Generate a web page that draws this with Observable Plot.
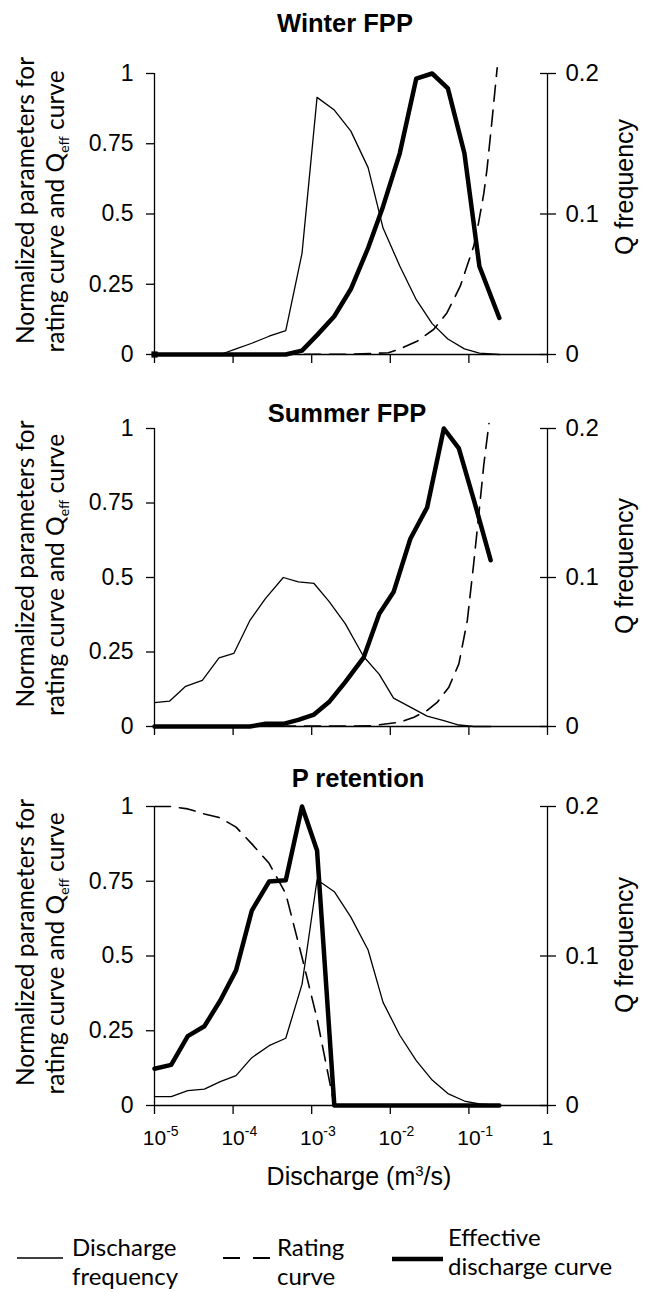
<!DOCTYPE html>
<html>
<head>
<meta charset="utf-8">
<script src="https://cdn.jsdelivr.net/npm/d3@7"></script>
<script src="https://cdn.jsdelivr.net/npm/@observablehq/plot@0.6"></script>
<style>
  body { margin: 0; background: #fff; }
  #root { position: relative; width: 645px; height: 1292px; overflow: hidden; background: #fff; }
  #root > svg { position: absolute; left: 0; }
</style>
</head>
<body>
<div id="root"></div>
<script>
// ---------- data ----------
const FREQ_MAX = 0.2;
const X_DOMAIN = [1e-5, 1];
const X_TICKS = [1e-5, 1e-4, 1e-3, 1e-2, 1e-1, 1];
const Y_TICKS = [0, 0.25, 0.5, 0.75, 1];
const FREQ_TICKS = [0, 0.1, 0.2];

// Winter FPP
const winterQ = [1.0e-5, 1.63e-5, 2.65e-5, 4.31e-5, 6.87e-5, 1.09e-4, 1.73e-4, 2.87e-4, 4.68e-4, 7.53e-4, 1.17e-3, 1.94e-3, 3.15e-3, 5.22e-3, 8.09e-3, 1.32e-2, 2.14e-2, 3.41e-2, 5.40e-2, 8.77e-2, 0.136, 0.244];
const winterFreq = [0, 0, 0, 0, 0, 0.004, 0.008, 0.013, 0.017, 0.072, 0.183, 0.174, 0.159, 0.133, 0.090, 0.063, 0.039, 0.022, 0.011, 0.004, 0.001, 0];
const winterEff = [0, 0, 0, 0, 0, 0, 0, 0, 0, 0.014, 0.069, 0.136, 0.233, 0.379, 0.527, 0.716, 0.982, 1.0, 0.947, 0.716, 0.314, 0.130];
const winterRatingQ = [1.0e-5, 3.0e-3, 9.5e-3, 1.33e-2, 2.19e-2, 3.55e-2, 5.25e-2, 7.76e-2, 0.115, 0.133, 0.155, 0.170, 0.197, 0.229];
const winterRating = [0, 0.001, 0.006, 0.020, 0.047, 0.089, 0.148, 0.243, 0.385, 0.470, 0.574, 0.660, 0.834, 1.02];

// Summer FPP
const summerQ = [1.00e-5, 1.55e-5, 2.49e-5, 4.06e-5, 6.62e-5, 1.02e-4, 1.63e-4, 2.59e-4, 4.35e-4, 6.76e-4, 1.07e-3, 1.66e-3, 2.67e-3, 4.57e-3, 7.24e-3, 1.10e-2, 1.80e-2, 2.94e-2, 4.80e-2, 7.45e-2, 0.116, 0.189];
const summerFreq = [0.016, 0.017, 0.027, 0.031, 0.046, 0.049, 0.071, 0.086, 0.100, 0.097, 0.096, 0.084, 0.069, 0.047, 0.035, 0.019, 0.013, 0.007, 0.004, 0.001, 0, 0];
const summerEff = [0, 0, 0, 0, 0, 0, 0, 0.009, 0.009, 0.022, 0.040, 0.082, 0.149, 0.231, 0.378, 0.451, 0.630, 0.735, 1.0, 0.933, 0.759, 0.558];
const summerRatingQ = [1.0e-5, 5.6e-3, 1.35e-2, 2.0e-2, 2.95e-2, 3.98e-2, 5.56e-2, 7.45e-2, 9.55e-2, 0.115, 0.134, 0.155, 0.180];
const summerRating = [0, 0.002, 0.015, 0.031, 0.054, 0.082, 0.132, 0.210, 0.356, 0.546, 0.714, 0.880, 1.017];

// P retention
const pretQ = [1.0e-5, 1.63e-5, 2.65e-5, 4.31e-5, 6.87e-5, 1.09e-4, 1.73e-4, 2.87e-4, 4.68e-4, 7.53e-4, 1.17e-3, 1.94e-3, 3.15e-3, 5.22e-3, 8.09e-3, 1.32e-2, 2.14e-2, 3.41e-2, 5.40e-2, 8.77e-2, 0.136, 0.244];
const pretFreq = [0.006, 0.006, 0.010, 0.011, 0.016, 0.020, 0.032, 0.040, 0.045, 0.081, 0.151, 0.143, 0.126, 0.104, 0.069, 0.047, 0.030, 0.017, 0.008, 0.003, 0.001, 0];
const pretEff = [0.123, 0.136, 0.232, 0.265, 0.351, 0.452, 0.652, 0.749, 0.753, 1.0, 0.853, 0, 0, 0, 0, 0, 0, 0, 0, 0, 0, 0];
const pretRatingQ = pretQ;
const pretRating = [1.0, 1.0, 0.992, 0.975, 0.962, 0.931, 0.875, 0.810, 0.708, 0.496, 0.290, 0, 0, 0, 0, 0, 0, 0, 0, 0, 0, 0];

const titles = ["Winter FPP", "Summer FPP", "P retention"];
const legendLabels = [["Discharge", "frequency"], ["Rating", "curve"], ["Effective", "discharge curve"]];

// ---------- layout ----------
const panels = [
  {q: winterQ, freq: winterFreq, eff: winterEff, rq: winterRatingQ, rating: winterRating, top: 73, h: 281, labels: false, marker: true,
   titleX: 345, titleY: 31.5, qfY: 187},
  {q: summerQ, freq: summerFreq, eff: summerEff, rq: summerRatingQ, rating: summerRating, top: 428, h: 298, labels: false, marker: false,
   titleX: 347, titleY: 422, qfY: 566},
  {q: pretQ, freq: pretFreq, eff: pretEff, rq: pretRatingQ, rating: pretRating, top: 806, h: 299, labels: true, marker: false,
   titleX: 358, titleY: 787, qfY: 945}
];

const SANS = "'Liberation Sans', Arial, Helvetica, sans-serif";
const HUMAN = "Lato, 'Open Sans', sans-serif";
const NS = "http://www.w3.org/2000/svg";
const root = document.getElementById("root");

function fmtExp(d) {
  const e = Math.round(Math.log10(d));
  return e === 0 ? "1" : "10^" + e;
}

panels.forEach((p, idx) => {
  const mt = 20, mb = p.labels ? 50 : 16;
  const freqData = p.q.map((q, i) => ({q, v: p.freq[i] / FREQ_MAX}));
  const effData = p.q.map((q, i) => ({q, v: p.eff[i]}));
  const ratData = p.rq.map((q, i) => ({q, v: p.rating[i]}));
  const svg = Plot.plot({
    width: 645,
    height: mt + p.h + mb,
    marginLeft: 154, marginRight: 98, marginTop: mt, marginBottom: mb,
    style: {background: "transparent", overflow: "visible", fontFamily: SANS, color: "#000"},
    x: {type: "log", domain: X_DOMAIN, label: null},
    y: {domain: [0, 1], label: null},
    marks: [
      Plot.ruleY([0], {stroke: "#000", strokeWidth: 1.3}),
      Plot.ruleX(X_DOMAIN, {stroke: "#000", strokeWidth: 1.3}),
      Plot.axisX({ticks: X_TICKS, tickSize: 9, tickPadding: 16, strokeWidth: 1.3, fontSize: 21,
                  tickFormat: p.labels ? fmtExp : () => "", label: null}),
      Plot.axisY({anchor: "left", ticks: Y_TICKS, tickSize: 8, tickPadding: 13, strokeWidth: 1.3, fontSize: 23,
                  tickFormat: d => String(d), label: null}),
      Plot.axisY({anchor: "right", ticks: FREQ_TICKS.map(t => t / FREQ_MAX), dx: -8, tickSize: 16, tickPadding: 10,
                  strokeWidth: 1.3, fontSize: 24, tickFormat: d => String(+(d * FREQ_MAX).toFixed(3)), label: null}),
      Plot.line(freqData, {x: "q", y: "v", stroke: "#000", strokeWidth: 1.3}),
      Plot.line(ratData, {x: "q", y: "v", stroke: "#000", strokeWidth: 1.6, strokeDasharray: "16,9"}),
      Plot.line(effData, {x: "q", y: "v", stroke: "#000", strokeWidth: 4.5}),
      p.marker ? Plot.dot(effData.slice(0, 1), {x: "q", y: "v", symbol: "square", r: 3.5, fill: "#000"}) : null
    ]
  });
  svg.style.top = (p.top - mt) + "px";
  if (p.labels) {
    svg.querySelectorAll('g[aria-label="x-axis tick label"] text').forEach(t => {
      const s = t.textContent;
      if (s.startsWith("10^")) {
        const exp = s.slice(3);
        t.textContent = "";
        const a = document.createElementNS(NS, "tspan");
        a.textContent = "10";
        const b = document.createElementNS(NS, "tspan");
        b.setAttribute("dy", "-9");
        b.setAttribute("font-size", "14");
        b.textContent = exp;
        t.append(a, b);
        t.setAttribute("text-anchor", "start");
        t.setAttribute("dx", "-11.7");
      }
    });
  }
  root.appendChild(svg);
});

// ---------- overlay text: titles, axis labels, legend ----------
let o = `<svg xmlns="${NS}" width="645" height="1292" style="top:0;overflow:visible">`;
panels.forEach((p, i) => {
  const cy = p.top + p.h / 2;
  o += `<text x="${p.titleX}" y="${p.titleY}" text-anchor="middle" font-family="${SANS}" font-weight="bold" font-size="25.5">${titles[i]}</text>`;
  o += `<text transform="translate(34,${cy - 13}) rotate(-90)" text-anchor="middle" font-family="${HUMAN}" font-size="24.5">Normalized parameters for</text>`;
  o += `<text transform="translate(64,${cy - 2}) rotate(-90)" text-anchor="middle" font-family="${HUMAN}" font-size="24.5">rating curve and Q<tspan dy="5" font-size="14">eff</tspan><tspan dy="-5"> curve</tspan></text>`;
  o += `<text transform="translate(633,${p.qfY}) rotate(-90)" text-anchor="middle" font-family="${SANS}" font-size="25">Q frequency</text>`;
});
o += `<text x="359" y="1185" text-anchor="middle" font-family="${SANS}" font-size="25">Discharge (m<tspan dy="-9" font-size="15">3</tspan><tspan dy="9">/s)</tspan></text>`;
// legend
o += `<line x1="17" x2="63" y1="1258" y2="1258" stroke="#000" stroke-width="1.5"/>`;
o += `<line x1="223" x2="270" y1="1258" y2="1258" stroke="#000" stroke-width="1.8" stroke-dasharray="17,13"/>`;
o += `<line x1="392" x2="443" y1="1259" y2="1259" stroke="#000" stroke-width="4.5"/>`;
const lx = [72, 277, 448], ly = [[1256, 1285], [1256, 1285], [1246, 1275]];
legendLabels.forEach((ls, i) => {
  ls.forEach((s, j) => {
    o += `<text x="${lx[i]}" y="${ly[i][j]}" font-family="${HUMAN}" font-size="24">${s}</text>`;
  });
});
o += `</svg>`;
root.insertAdjacentHTML("beforeend", o);
</script>
</body>
</html>
